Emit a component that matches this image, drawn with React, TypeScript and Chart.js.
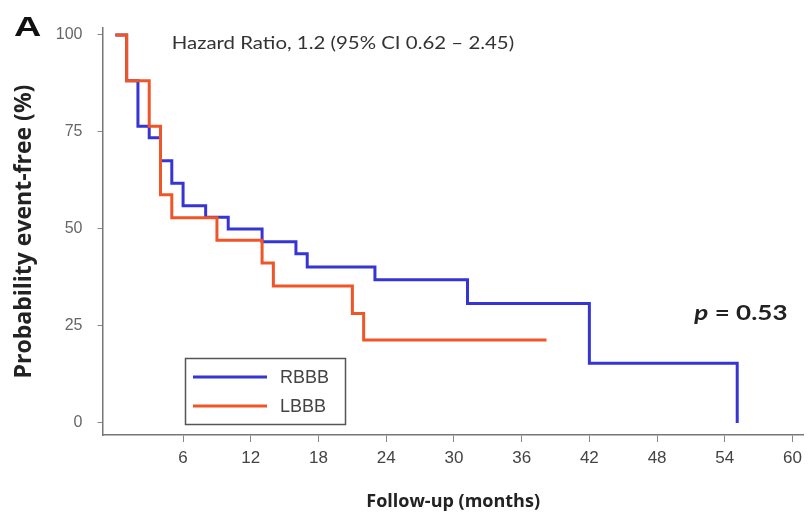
import React, { useEffect, useRef } from 'react';
import { Chart, registerables } from 'chart.js';

Chart.register(...registerables);

// Kaplan-Meier step data (months, % event-free)
const rbbbMonths = [0, 1, 2, 3, 4, 5, 6, 8, 10, 13, 16, 17, 23, 31.2, 42, 55.1];
const rbbbSurvival = [100, 88.2, 76.5, 73.5, 67.6, 61.8, 56.0, 53.0, 50.0, 46.7, 43.6, 40.2, 36.9, 30.8, 15.4, 0];
const lbbbMonths = [0, 1, 3, 4, 5, 9, 13, 14, 21, 22, 38.2];
const lbbbSurvival = [100, 88.2, 76.5, 58.8, 52.9, 47.1, 41.2, 35.3, 28.2, 21.4, 21.4];

const xTickValues = [6, 12, 18, 24, 30, 36, 42, 48, 54, 60];
const yTickValues = [0, 25, 50, 75, 100];

const seriesLabels = ['RBBB', 'LBBB'];
const seriesColors = ['#3535d6', '#ef5526'];

const panelLabel = 'A';
const hazardText = 'Hazard Ratio, 1.2 (95% CI 0.62 \u2013 2.45)';
const pLabel = 'p';
const pValueText = ' = 0.53';
const xTitle = 'Follow-up (months)';
const yTitle = 'Probability event-free (%)';

const toPoints = (xs: number[], ys: number[]) => xs.map((x, i) => ({ x, y: ys[i] }));

const drawStretched = (ctx: CanvasRenderingContext2D, text: string, x: number, y: number, sx: number) => {
  ctx.save();
  ctx.translate(x, y);
  ctx.scale(sx, 1);
  ctx.fillText(text, 0, 0);
  const w = ctx.measureText(text).width * sx;
  ctx.restore();
  return w;
};

const annotationPlugin = {
  id: 'kmAnnotations',
  afterDraw(chart: any) {
    const { ctx } = chart;
    const xs = chart.scales.x;
    const ys = chart.scales.y;
    ctx.save();
    ctx.textAlign = 'left';

    // Panel label
    ctx.fillStyle = '#111';
    ctx.textBaseline = 'alphabetic';
    ctx.font = 'bold 28px "Liberation Sans", Arial, sans-serif';
    drawStretched(ctx, panelLabel, 14, 36, 1.35);

    // Hazard ratio text
    ctx.font = '17px Lato, sans-serif';
    ctx.fillStyle = '#333';
    ctx.textBaseline = 'middle';
    drawStretched(ctx, hazardText, xs.getPixelForValue(5.0), ys.getPixelForValue(97.9), 1.2);

    // p-value
    const px = xs.getPixelForValue(51.3);
    const py = ys.getPixelForValue(28.3);
    ctx.fillStyle = '#222';
    ctx.font = 'italic bold 20px Lato, sans-serif';
    const w = drawStretched(ctx, pLabel, px, py, 1.3);
    ctx.font = 'bold 20px Lato, sans-serif';
    drawStretched(ctx, pValueText, px + w, py, 1.3);

    // Legend box
    const lx = 185.5, ly = 358.5, lw = 160, lh = 66;
    ctx.strokeStyle = '#555';
    ctx.lineWidth = 1.5;
    ctx.strokeRect(lx, ly, lw, lh);
    ctx.font = '18px "Liberation Sans", Arial, sans-serif';
    ctx.fillStyle = '#444';
    seriesLabels.forEach((label, i) => {
      const yy = 377 + i * 29;
      ctx.strokeStyle = seriesColors[i];
      ctx.lineWidth = 3;
      ctx.beginPath();
      ctx.moveTo(193, yy);
      ctx.lineTo(267, yy);
      ctx.stroke();
      ctx.fillText(label, 280, yy + 1);
    });
    ctx.restore();
  },
};

export default function App() {
  const ref = useRef<HTMLCanvasElement>(null);

  useEffect(() => {
    if (!ref.current) return;
    const chart = new Chart(ref.current, {
      type: 'line',
      data: {
        datasets: [
          {
            label: seriesLabels[1],
            data: toPoints(lbbbMonths, lbbbSurvival),
            borderColor: seriesColors[1],
            borderWidth: 3,
            stepped: 'before',
            pointRadius: 0,
            fill: false,
          },
          {
            label: seriesLabels[0],
            data: toPoints(rbbbMonths, rbbbSurvival),
            borderColor: seriesColors[0],
            borderWidth: 3,
            stepped: 'before',
            pointRadius: 0,
            fill: false,
          },
        ],
      },
      options: {
        responsive: false,
        animation: false,
        layout: { padding: { top: 28, right: 2, bottom: 0, left: 0 } },
        plugins: { legend: { display: false }, tooltip: { enabled: false } },
        scales: {
          x: {
            type: 'linear',
            min: -1.14,
            max: 61,
            afterBuildTicks: (scale: any) => {
              scale.ticks = xTickValues.map((v) => ({ value: v }));
            },
            afterFit: (scale: any) => {
              scale.height = 87;
            },
            grid: { display: true, drawOnChartArea: false, drawTicks: true, tickLength: 7, color: '#888', lineWidth: 1 },
            border: { display: true, color: '#777', width: 1.5 },
            ticks: {
              autoSkip: false,
              maxRotation: 0,
              padding: 6,
              color: '#444',
              font: { family: '"Liberation Sans", Arial, sans-serif', size: 17 },
              callback: (v: any) => String(v),
            },
            title: {
              display: true,
              text: xTitle,
              color: '#222',
              font: { family: '"Open Sans", sans-serif', size: 18, weight: 'bold' },
              padding: { top: 0, bottom: 9 },
            },
          },
          y: {
            type: 'linear',
            min: -3.1,
            max: 101.8,
            afterBuildTicks: (scale: any) => {
              scale.ticks = yTickValues.map((v) => ({ value: v }));
            },
            afterFit: (scale: any) => {
              scale.width = 102.5;
            },
            grid: { display: true, drawOnChartArea: false, drawTicks: true, tickLength: 5, color: '#888', lineWidth: 1 },
            border: { display: true, color: '#777', width: 1.5 },
            ticks: {
              autoSkip: false,
              padding: 15,
              color: '#666',
              font: { family: '"Liberation Sans", Arial, sans-serif', size: 16 },
              callback: (v: any) => String(v),
            },
            title: {
              display: true,
              text: yTitle,
              color: '#222',
              font: { family: '"Open Sans", sans-serif', size: 23, weight: 'bold' },
              padding: { top: 11, bottom: 0 },
            },
          },
        },
      },
      plugins: [annotationPlugin],
    });
    return () => chart.destroy();
  }, []);

  return (
    <div style={{ position: 'absolute', left: 0, top: 0, width: 808, height: 522, background: '#fff' }}>
      <canvas ref={ref} width={808} height={522} style={{ width: 808, height: 522, display: 'block' }} />
    </div>
  );
}
